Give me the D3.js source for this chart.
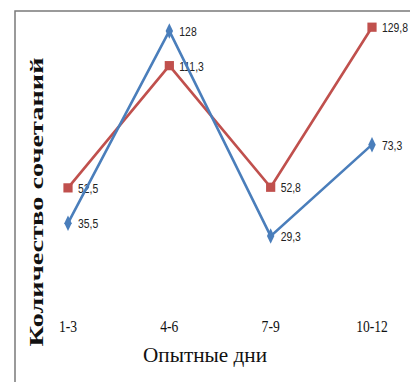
<!DOCTYPE html>
<html>
<head>
<meta charset="utf-8">
<script src="https://cdn.jsdelivr.net/npm/d3@7"></script>
<style>
  body { margin: 0; background: #fff; }
  svg { display: block; }
</style>
</head>
<body>
<svg id="chart" width="410" height="382"></svg>
<script>
// periods of the experiment
var days = ["1-3", "4-6", "7-9", "10-12"];
// two series
var blueVals = [35.5, 128, 29.3, 73.3];
var redVals = [52.5, 111.3, 52.8, 129.8];
var blueLabels = ["35,5", "128", "29,3", "73,3"];
var redLabels = ["52,5", "111,3", "52,8", "129,8"];

var svg = d3.select("#chart");

var x = d3.scalePoint().domain(days).range([68, 372]);
var y = d3.scaleLinear().domain([0, 140]).range([297, 6]);

// frame
svg.append("rect")
  .attr("x", 15).attr("y", 11)
  .attr("width", 420).attr("height", 400)
  .attr("fill", "none")
  .attr("stroke", "#7a7a7a")
  .attr("stroke-width", 1.5);

var line = d3.line()
  .x(function (d, i) { return x(days[i]); })
  .y(function (d) { return y(d); });

function drawSeries(vals, labels, color, shape) {
  svg.append("path")
    .datum(vals)
    .attr("d", line)
    .attr("fill", "none")
    .attr("stroke", color)
    .attr("stroke-width", 2.6)
    .attr("stroke-linejoin", "miter");

  var sym = d3.symbol().type(shape).size(shape === d3.symbolSquare ? 85 : 48);
  svg.selectAll(null)
    .data(vals)
    .enter()
    .append("path")
    .attr("d", sym)
    .attr("transform", function (d, i) {
      var t = "translate(" + x(days[i]) + "," + y(d) + ")";
      if (shape === d3.symbolDiamond) t += " scale(1,1.2)";
      return t;
    })
    .attr("fill", color);

  // narrow data labels
  svg.selectAll(null)
    .data(vals)
    .enter()
    .append("text")
    .attr("transform", function (d, i) {
      return "translate(" + (x(days[i]) + 10) + "," + y(d) + ") scale(0.8,1)";
    })
    .attr("dy", "0.38em")
    .attr("font-family", "'Liberation Sans', Arial, sans-serif")
    .attr("font-size", "13px")
    .attr("fill", "#222")
    .text(function (d, i) { return labels[i]; });
}

drawSeries(redVals, redLabels, "#c0504d", d3.symbolSquare);
drawSeries(blueVals, blueLabels, "#4a7ebb", d3.symbolDiamond);

// category labels
svg.selectAll(null)
  .data(days)
  .enter()
  .append("text")
  .attr("transform", function (d) { return "translate(" + x(d) + ",332) scale(0.85,1)"; })
  .attr("text-anchor", "middle")
  .attr("font-family", "'Liberation Serif', serif")
  .attr("font-size", "16px")
  .attr("fill", "#111")
  .text(function (d) { return d; });

// axis titles
svg.append("text")
  .attr("x", 205).attr("y", 362)
  .attr("text-anchor", "middle")
  .attr("font-family", "'Liberation Serif', serif")
  .attr("font-size", "22px")
  .attr("fill", "#111")
  .attr("textLength", 124)
  .attr("lengthAdjust", "spacingAndGlyphs")
  .text("Опытные дни");

svg.append("text")
  .attr("transform", "translate(43,202) rotate(-90)")
  .attr("text-anchor", "middle")
  .attr("font-family", "'Liberation Serif', serif")
  .attr("font-weight", "bold")
  .attr("font-size", "18px")
  .attr("fill", "#111")
  .attr("textLength", 289)
  .attr("lengthAdjust", "spacingAndGlyphs")
  .text("Количество сочетаний");
</script>
</body>
</html>
